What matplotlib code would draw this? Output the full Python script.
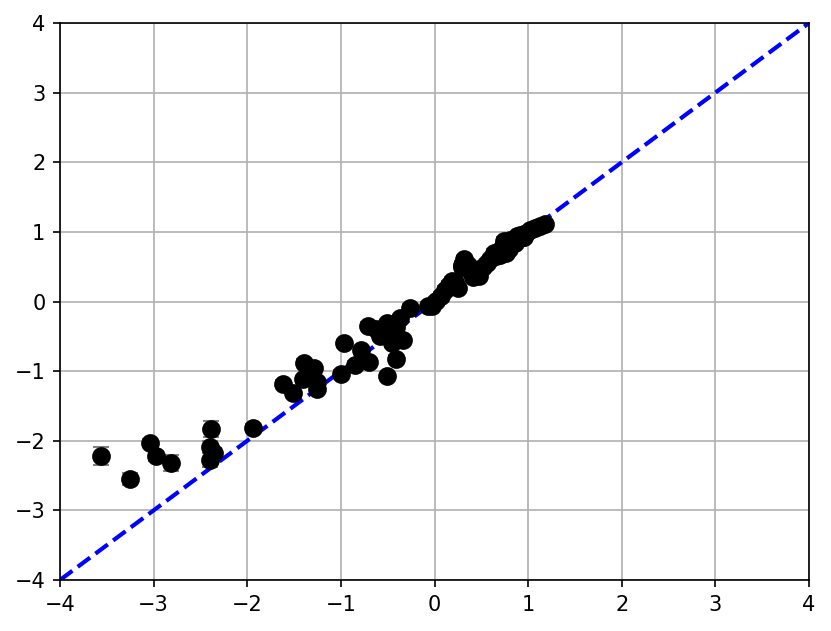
import numpy as np
from matplotlib import pyplot as plt

x_vals = [-3.56, -3.25, -3.04, -2.97, -2.81, -2.39, -2.40, -2.35, -2.40, -1.94,
          -1.62, -1.51, -1.39, -1.29, -1.40, -1.25, -1.25, -1.00, -0.97, -0.85,
          -0.78, -0.70, -0.71, -0.62, -0.51, -0.41, -0.34, -0.58, -0.46, -0.51,
          -0.41, -0.37, -0.26, -0.07, -0.03, 0.02, 0.07, 0.11, 0.16, 0.19,
          0.25, 0.29, 0.31, 0.29, 0.36, 0.41, 0.47, 0.48, 0.52, 0.56,
          0.59, 0.66, 0.70, 0.73, 0.74, 0.78, 0.81, 0.84, 0.88, 0.91,
          0.94, 0.98, 1.02, 1.07, 1.13, 1.18, 0.64, 0.69, 0.80, 0.86,
          -0.45, -0.55, 0.22, 0.39, 0.76, 0.96]
y_vals = [-2.22, -2.55, -2.03, -2.22, -2.32, -1.83, -2.09, -2.17, -2.28, -1.81,
          -1.18, -1.32, -0.88, -0.95, -1.12, -1.25, -1.15, -1.04, -0.60, -0.91,
          -0.70, -0.87, -0.35, -0.39, -1.07, -0.82, -0.55, -0.50, -0.50, -0.31,
          -0.36, -0.24, -0.09, -0.06, -0.07, 0.01, 0.08, 0.17, 0.24, 0.30,
          0.19, 0.50, 0.61, 0.53, 0.52, 0.35, 0.37, 0.45, 0.49, 0.56,
          0.61, 0.65, 0.67, 0.79, 0.87, 0.82, 0.88, 0.89, 0.94, 0.95,
          0.93, 0.98, 1.02, 1.06, 1.09, 1.11, 0.70, 0.72, 0.76, 0.84,
          -0.60, -0.42, 0.28, 0.43, 0.70, 0.92]
y_err = [0.125, 0.09, 0.06, 0.07, 0.11, 0.11, 0.08, 0.06, 0.10, 0.05,
         0.05, 0.05, 0.05, 0.05, 0.05, 0.05, 0.05, 0.05, 0.05, 0.05,
         0.05, 0.05, 0.05, 0.05, 0.05, 0.05, 0.05, 0.05, 0.05, 0.05,
         0.05, 0.05, 0.05, 0.05, 0.05, 0.05, 0.05, 0.05, 0.05, 0.05,
         0.05, 0.05, 0.05, 0.05, 0.05, 0.05, 0.05, 0.05, 0.05, 0.05,
         0.05, 0.05, 0.05, 0.05, 0.05, 0.05, 0.05, 0.05, 0.05, 0.05,
         0.05, 0.05, 0.05, 0.05, 0.05, 0.05, 0.05, 0.05, 0.05, 0.05,
         0.05, 0.05, 0.05, 0.05, 0.05, 0.05]
lims = [-4, 4]

fig = plt.figure(figsize=(831 / 150, 631 / 150), dpi=150)
ax = fig.add_axes([60 / 831, 51 / 631, 749 / 831, 557 / 631])

ax.plot(lims, lims, 'b--', lw=2, zorder=2)
ax.errorbar(x_vals, y_vals, yerr=y_err, fmt='o', color='black', ecolor='grey',
            markersize=8, capsize=4, zorder=3)

ax.set_xlim(lims)
ax.set_ylim(lims)
ax.grid(True)
ax.set_axisbelow(True)

plt.savefig('out.png', dpi=150)
